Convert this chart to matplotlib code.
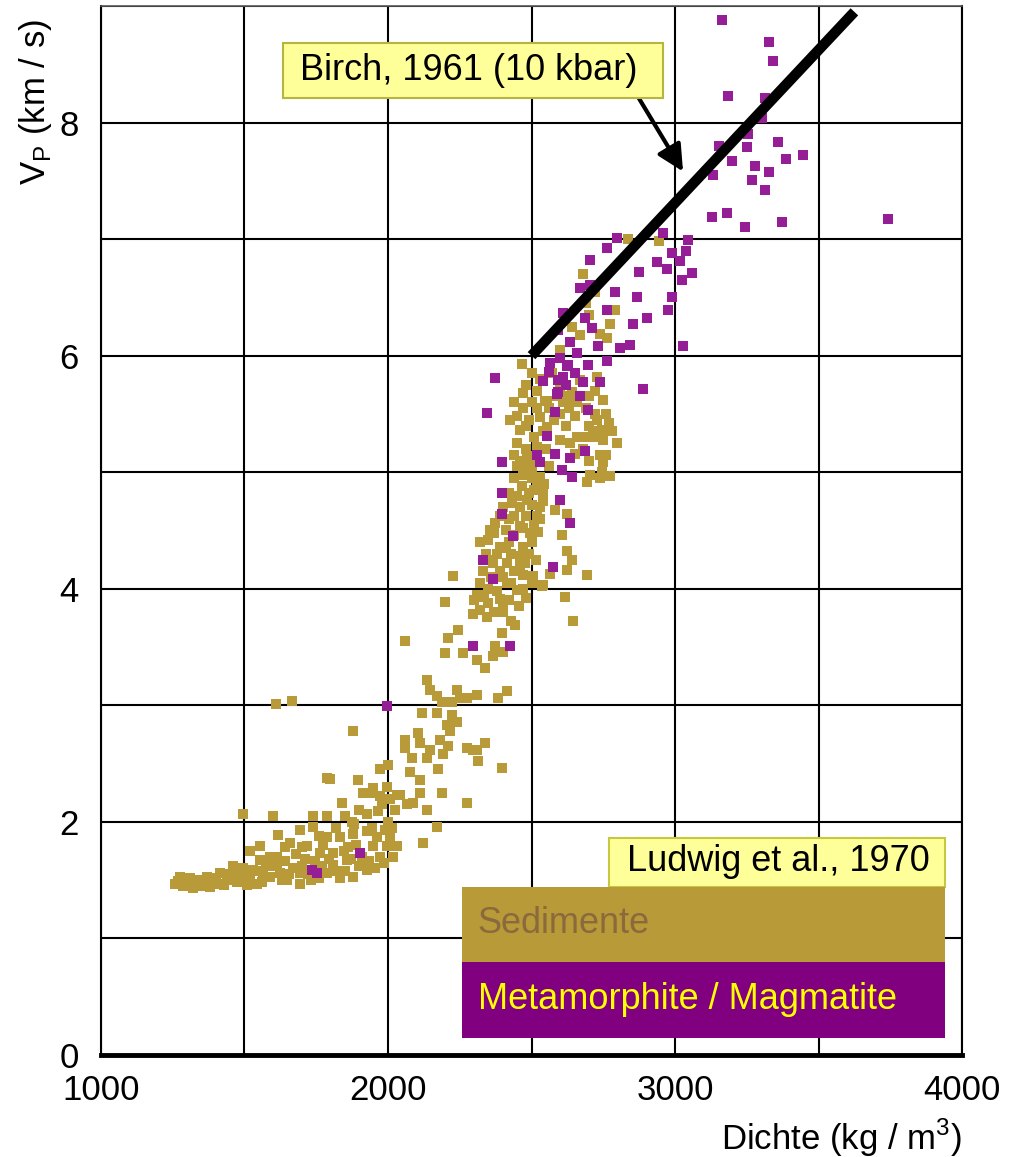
import matplotlib.pyplot as plt
import matplotlib.patches as mpatches
from matplotlib.ticker import MultipleLocator

plt.rcParams['font.family'] = ['Liberation Sans', 'DejaVu Sans']

# Sedimente (density kg/m3, Vp km/s)
sed_x = [1258, 1275, 1287, 1300, 1322, 1322, 1345, 1368, 1368, 1390, 1415, 1415, 1440, 1461, 1461,
         1485, 1508, 1508, 1519, 1531, 1543, 1554, 1554, 1565, 1589, 1600, 1612, 1612, 1618, 1630,
         1647, 1659, 1670, 1693, 1693, 1693, 1710, 1717, 1730, 1740, 1740, 1763, 1770, 1786, 1786,
         1786, 1809, 1809, 1833, 1833, 1839, 1856, 1860, 1873, 1879, 1879, 1900, 1926, 1926, 1926,
         1937, 1949, 1960, 1966, 1972, 1995, 2007, 2007, 2019, 2030, 2042, 2065, 1496, 1600, 1786,
         1798, 1610, 1664, 1879, 1897, 1914, 1949, 1972, 1972, 1995, 2001, 2030, 2077, 2088, 2111,
         2111, 2123, 2135, 2169, 2187, 2274, 2059, 2059, 2059, 2082, 2106, 2111, 2117, 2135, 2135,
         2146, 2146, 2169, 2169, 2175, 2181, 2187, 2193, 2199, 2199, 2204, 2210, 2210, 2216, 2222,
         2222, 2228, 2239, 2239, 2245, 2251, 2263, 2274, 2274, 2297, 2297, 2309, 2309, 2309, 2314,
         2338, 2338, 2344, 2367, 2373, 2384, 2396, 2396, 2402, 2402, 2414, 2442, 2541, 2617, 2646,
         2623, 2640, 2623, 2692, 2535, 2564, 2605, 2623, 2582, 2652, 2634, 2797, 2739, 2750, 2692,
         2739, 2727, 2744, 2715, 2628, 2750, 2553, 2530, 2553, 2425, 2460, 2466, 2547, 2646, 2727,
         2669, 2640, 2739, 2762, 2669, 2774, 2791, 2680, 2837, 2945, 2483, 2477, 2448, 2466, 2518,
         2541, 2431, 2483, 2518, 2373, 2460, 2495, 2524, 2350, 2390, 2471, 2367, 2414, 2477, 2506,
         2320, 2414, 2448, 2332, 2390,
         2690, 2720, 2760, 2700, 2770, 2690, 2750, 2704, 2745, 2775,
         2440, 2470, 2500, 2530, 2420, 2450, 2490, 2400, 2460, 2500, 2530, 2390, 2420, 2480,
         2370, 2410, 2440, 2320, 2420, 2500, 2340, 2380, 2430, 2460, 2330, 2390, 2440, 2470,
         2350, 2380, 2470, 2300, 2350, 2420, 2320, 2370,
         2440, 2470, 2500, 2520, 2450, 2490, 2510, 2450, 2480, 2520, 2550, 2440, 2500, 2560,
         2600, 2620, 2600, 2650, 2600, 2480, 2570, 2610, 2660, 2580,
         1270, 1295, 1310, 1335, 1355, 1380, 1400, 1430, 1450, 1475, 1495, 1520, 1540, 1560,
         1575, 1590, 1625, 1640, 1655, 1680, 1700, 1720, 1745, 1760, 1775, 1795, 1820, 1845,
         1850, 1870, 1890, 1910, 1935, 1945, 1955, 1985, 1990, 2000, 2015, 2025, 1880, 1820,
         1760, 1700, 1640, 1850, 1900, 1980,
         2335, 2360, 2400, 2430, 2460, 2490, 2510, 2530, 2540, 2510, 2545, 2410, 2350, 2355,
         2440, 2470, 2515, 2500, 2310, 2480, 2455, 2400, 2430, 2500, 2520, 2460, 2540, 2480,
         2560, 2520, 2470, 2500, 2530, 2590, 2630, 2660, 2700, 2720, 2680, 2700, 2760, 2780,
         2720, 2600, 2640, 2690, 2720, 2700]
sed_y = [1.47, 1.53, 1.45, 1.50, 1.50, 1.43, 1.47, 1.53, 1.45, 1.49, 1.56, 1.47, 1.52, 1.62, 1.50,
         1.55, 1.53, 1.46, 1.75, 1.59, 1.47, 1.67, 1.79, 1.55, 1.53, 1.62, 1.62, 1.70, 1.89, 1.50,
         1.50, 1.82, 1.60, 1.56, 1.47, 1.93, 1.68, 1.79, 1.50, 1.96, 2.05, 1.73, 1.62, 1.56, 1.87,
         2.05, 1.73, 1.63, 1.52, 1.87, 2.16, 1.67, 1.78, 2.00, 1.53, 1.90, 1.62, 1.59, 1.92, 2.07,
         2.25, 1.79, 1.87, 2.09, 1.70, 1.79, 1.87, 2.20, 1.70, 1.79, 2.23, 2.15, 2.07, 2.05, 2.38,
         2.37, 3.01, 3.04, 2.78, 2.36, 2.25, 2.29, 2.22, 2.45, 2.30, 2.49, 2.23, 2.43, 2.16, 2.25,
         2.36, 1.82, 2.10, 1.96, 2.25, 2.16, 2.70, 2.63, 3.55, 2.55, 2.76, 2.68, 2.93, 2.55, 3.22,
         2.62, 3.13, 2.93, 3.08, 2.45, 2.70, 3.03, 2.58, 3.45, 3.89, 2.83, 2.65, 3.58, 2.78, 2.92,
         3.03, 4.11, 2.86, 3.13, 3.65, 3.06, 3.45, 2.63, 3.06, 2.62, 3.78, 2.62, 3.09, 3.39, 2.52,
         2.68, 3.32, 3.76, 3.42, 3.51, 3.06, 2.46, 3.62, 3.46, 3.85, 3.12, 3.69, 4.03, 3.93, 3.72,
         4.32, 4.25, 4.16, 4.12, 4.02, 4.13, 4.46, 4.64, 4.68, 5.16, 5.25, 5.25, 5.15, 5.09, 4.92,
         4.95, 5.45, 5.36, 5.35, 5.65, 5.62, 5.61, 5.47, 5.39, 5.45, 5.36, 5.93, 5.61, 5.62, 5.82,
         5.79, 5.69, 6.19, 6.15, 6.18, 6.27, 6.39, 6.70, 7.00, 6.98, 5.14, 5.05, 5.05, 4.88, 4.88,
         4.82, 4.74, 4.76, 4.62, 4.56, 4.54, 4.48, 4.49, 4.42, 4.36, 4.36, 4.22, 4.22, 4.22, 4.11,
         4.05, 4.05, 3.99, 3.93, 3.91,
         5.55, 5.50, 5.50, 5.40, 5.42, 5.30, 5.28, 4.98, 5.00, 4.97,
         4.95, 4.98, 4.95, 4.96, 4.82, 4.80, 4.82, 4.70, 4.70, 4.72, 4.70, 4.62, 4.60, 4.62,
         4.48, 4.50, 4.46, 4.40, 4.40, 4.40, 4.30, 4.30, 4.30, 4.28, 4.15, 4.15, 4.15, 4.12,
         4.00, 3.98, 4.00, 3.90, 3.88, 3.90, 3.82, 3.80,
         5.60, 5.55, 5.60, 5.70, 5.48, 5.45, 5.30, 5.25, 5.20, 5.22, 5.20, 5.15, 5.05, 5.05,
         5.28, 5.40, 5.50, 5.48, 5.72, 5.75, 5.85, 5.60, 5.30, 5.45,
         1.49, 1.46, 1.52, 1.45, 1.50, 1.44, 1.52, 1.46, 1.55, 1.48, 1.60, 1.50, 1.58, 1.48,
         1.62, 1.70, 1.56, 1.66, 1.55, 1.72, 1.62, 1.55, 1.66, 1.52, 1.80, 1.68, 1.58, 1.75,
         1.58, 1.68, 1.80, 1.70, 1.66, 1.95, 1.60, 1.65, 1.93, 2.00, 1.95, 2.10, 1.98, 1.95,
         1.88, 1.78, 1.78, 2.05, 2.10, 2.15,
         3.95, 4.10, 4.10, 4.05, 4.20, 4.30, 4.55, 4.60, 4.75, 4.85, 4.90, 4.35, 4.25, 4.50,
         4.62, 4.52, 4.25, 4.05, 3.95, 3.92, 3.85, 3.80, 3.72, 5.00, 5.10, 5.10, 5.35, 5.40,
         5.55, 5.55, 5.68, 5.85, 5.80, 5.65, 5.55, 5.60, 5.65, 5.30, 5.20, 5.10, 5.15, 5.35,
         5.70, 6.05, 6.25, 6.45, 6.55, 6.35]

# Metamorphite / Magmatite
mag_x = [3163, 3329, 3343, 3186, 3314, 3302, 3255, 3155, 3250, 3360, 3197, 3279, 3329, 3386, 3447,
         3134, 3270, 3314, 3128, 3180, 3244, 3374, 3741, 2959, 3046, 2988, 3037, 2797, 2762, 2704,
         2936, 2971, 3017, 3058, 2873, 3023, 2669, 2704, 2866, 2988, 2977, 2791, 2762, 2611, 2686,
         2901, 2852, 2710, 2593, 2634, 2733, 2808, 2843, 3029, 2657, 2564, 2623, 2698, 2762, 2739,
         2611, 2593, 2889, 2373, 2344, 2628, 2593, 2680, 2588, 2698, 2582, 2553, 2518, 2582, 2634,
         2686, 2396, 2530, 2605, 2640, 2396, 2599, 2634, 2396, 2437, 2332, 2367, 2576, 2297, 2425,
         1995, 1902, 1734, 1751, 2600, 2650, 2560, 2620, 2670, 2540]
mag_y = [8.88, 8.69, 8.53, 8.23, 8.21, 8.04, 7.90, 7.80, 7.79, 7.83, 7.67, 7.63, 7.58, 7.69, 7.72,
         7.55, 7.51, 7.42, 7.19, 7.22, 7.10, 7.15, 7.17, 7.05, 6.99, 6.88, 6.90, 7.01, 6.92, 6.82,
         6.80, 6.74, 6.81, 6.71, 6.72, 6.65, 6.58, 6.61, 6.50, 6.50, 6.39, 6.55, 6.39, 6.37, 6.32,
         6.32, 6.27, 6.24, 6.22, 6.12, 6.08, 6.07, 6.09, 6.08, 6.02, 5.94, 5.91, 5.92, 5.95, 5.77,
         5.82, 5.69, 5.71, 5.81, 5.51, 5.92, 5.79, 5.77, 5.67, 5.53, 5.52, 5.31, 5.15, 5.16, 5.12,
         5.18, 5.09, 5.09, 5.02, 4.96, 4.82, 4.76, 4.56, 4.64, 4.45, 4.25, 4.08, 4.19, 3.51, 3.51,
         2.99, 1.73, 1.59, 1.56, 5.98, 5.85, 5.86, 5.75, 5.65, 5.78]

# Birch, 1961 (10 kbar)
birch_x = [2500, 3625]
birch_y = [6.0, 8.95]

sed_color = '#B89A39'
mag_color = '#951E96'

fig = plt.figure(figsize=(10.12, 11.57), dpi=100)
ax = fig.add_axes([0.0998, 0.0882, 0.8508, 0.9066])

ax.scatter(sed_x, sed_y, s=62, marker='s', color=sed_color, linewidths=0, zorder=3)
ax.scatter(mag_x, mag_y, s=58, marker='s', color=mag_color, linewidths=0, zorder=4)
ax.plot(birch_x, birch_y, color='black', lw=7.5, solid_capstyle='butt', zorder=5)

ax.set_xlim(1000, 4000)
ax.set_ylim(0, 9)
ax.xaxis.set_major_locator(MultipleLocator(1000))
ax.xaxis.set_minor_locator(MultipleLocator(500))
ax.yaxis.set_major_locator(MultipleLocator(2))
ax.yaxis.set_minor_locator(MultipleLocator(1))
ax.grid(which='both', color='black', lw=1.5, zorder=1)
ax.set_axisbelow(True)
ax.tick_params(which='both', length=0, labelsize=25)
ax.tick_params(axis='x', pad=14)
ax.tick_params(axis='y', pad=16)

ax.spines['bottom'].set_linewidth(3.5)
ax.spines['left'].set_linewidth(1.5)
ax.spines['top'].set_linewidth(1.2)
ax.spines['right'].set_linewidth(1.5)
ax.spines['top'].set_color('#555555')

# arrow to Birch line
ax.annotate('', xy=(3028, 7.58), xytext=(2864, 8.25),
            arrowprops=dict(arrowstyle='-|>', lw=3, color='black', mutation_scale=40,
                            shrinkA=0, shrinkB=0), zorder=6)

# Birch label box
ax.add_patch(mpatches.Rectangle((0.211, 0.912), 0.442, 0.053, transform=ax.transAxes,
                                facecolor='#FFFF99', edgecolor='#B5B540', lw=1.5, zorder=7))
ax.text(0.427, 0.939, 'Birch, 1961 (10 kbar)', transform=ax.transAxes, fontsize=26,
        ha='center', va='center', zorder=8)

# legend bands
ax.add_patch(mpatches.Rectangle((0.590, 0.160), 0.390, 0.047, transform=ax.transAxes,
                                facecolor='#FFFF99', edgecolor='#C8C840', lw=1.5, zorder=7))
ax.text(0.787, 0.184, 'Ludwig et al., 1970', transform=ax.transAxes, fontsize=26,
        ha='center', va='center', zorder=8)
ax.add_patch(mpatches.Rectangle((0.419, 0.0887), 0.561, 0.0713, transform=ax.transAxes,
                                facecolor=sed_color, edgecolor='none', zorder=7))
ax.text(0.437, 0.125, 'Sedimente', transform=ax.transAxes, fontsize=26, color='#8A6A3C',
        ha='left', va='center', zorder=8)
ax.add_patch(mpatches.Rectangle((0.419, 0.0162), 0.561, 0.0725, transform=ax.transAxes,
                                facecolor='#800080', edgecolor='none', zorder=7))
ax.text(0.438, 0.053, 'Metamorphite / Magmatite', transform=ax.transAxes, fontsize=26,
        color='#FFFF00', ha='left', va='center', zorder=8)

fig.text(35 / 1012, 1 - 102 / 1157, r'V$_\mathregular{P}$ (km / s)', rotation=90,
         fontsize=25, ha='center', va='center')
fig.text(962 / 1012, 1 - 1138 / 1157, r'Dichte (kg / m$^\mathregular{3}$)',
         fontsize=25, ha='right', va='center')

fig.savefig('out.png', dpi=100)
